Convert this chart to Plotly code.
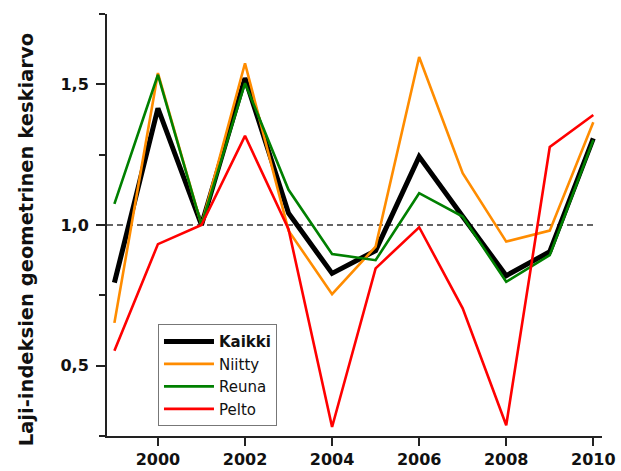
import plotly.graph_objects as go

# Annual geometric mean of species indices, by habitat
years = [1999, 2000, 2001, 2002, 2003, 2004, 2005, 2006, 2007, 2008, 2009, 2010]
kaikki = [0.795, 1.415, 1.0, 1.522, 1.042, 0.828, 0.909, 1.243, 1.030, 0.820, 0.905, 1.308]
niitty = [0.652, 1.540, 1.0, 1.575, 0.980, 0.754, 0.923, 1.597, 1.184, 0.941, 0.980, 1.365]
reuna = [1.075, 1.534, 1.0, 1.504, 1.125, 0.897, 0.875, 1.113, 1.030, 0.798, 0.893, 1.302]
pelto = [0.553, 0.932, 1.0, 1.317, 0.985, 0.282, 0.846, 0.992, 0.704, 0.288, 1.277, 1.391]

x_ticks = [2000, 2002, 2004, 2006, 2008, 2010]
y_ticks = [0.5, 1.0, 1.5]
y_tick_text = ["0,5", "1,0", "1,5"]

series = [
    ("<b>Kaikki</b>", kaikki, "#000000", 5),
    ("Niitty", niitty, "#FF8C00", 2.6),
    ("Reuna", reuna, "#008000", 2.6),
    ("Pelto", pelto, "#FF0000", 2.6),
]

X_MIN, X_MAX = 1998.83, 2010.2

fig = go.Figure()
for i, (name, vals, color, width) in enumerate(series):
    fig.add_trace(go.Scatter(
        x=years, y=vals, mode="lines", name=name,
        legendgroup=f"g{i}",
        line=dict(color=color, width=width),
    ))

# Reference level at 1.0
fig.add_shape(type="line", xref="paper", yref="y", x0=0, x1=(2010 - X_MIN) / (X_MAX - X_MIN),
              y0=1.0, y1=1.0, line=dict(color="#333333", width=1.3, dash="6px,4px"), layer="below")
# Small overhang of the x axis line to the left
fig.add_shape(type="line", xref="paper", yref="paper", x0=-0.011, x1=0, y0=0, y1=0,
              line=dict(color="#222222", width=2))

axis_font = dict(family="DejaVu Sans", size=16, color="#111111")

fig.update_xaxes(
    range=[X_MIN, X_MAX], tickvals=x_ticks, ticktext=[str(v) for v in x_ticks],
    showgrid=False, zeroline=False, showline=True, linecolor="#222222", linewidth=2,
    ticks="outside", ticklen=8, tickwidth=2, tickcolor="#222222",
    tickfont=dict(axis_font, weight="bold"), automargin=False,
)
fig.update_yaxes(
    range=[0.25, 1.75], tickvals=y_ticks, ticktext=y_tick_text,
    showgrid=False, zeroline=False, showline=True, linecolor="#222222", linewidth=2,
    ticks="outside", ticklen=9, tickwidth=2, tickcolor="#222222",
    ticklabelstandoff=4,
    minor=dict(tickvals=[0.25, 0.75, 1.25, 1.75], ticks="outside", ticklen=6,
               tickwidth=2, tickcolor="#222222"),
    tickfont=dict(axis_font, weight="bold"), automargin=False,
)

fig.add_annotation(
    text="<b>Laji-indeksien geometrinen keskiarvo</b>",
    xref="paper", yref="paper", x=-0.1636, y=0.464,
    xanchor="center", yanchor="middle", textangle=-90, showarrow=False,
    font=dict(family="DejaVu Sans", size=19.5, color="#111111"),
)

fig.update_layout(
    width=621, height=471,
    margin=dict(l=107, r=19, t=14, b=35, autoexpand=False),
    paper_bgcolor="white", plot_bgcolor="white",
    showlegend=True,
    legend=dict(
        x=0.103, y=0.265, xanchor="left", yanchor="top",
        bgcolor="white", bordercolor="#777777", borderwidth=1,
        font=dict(family="DejaVu Sans", size=15, color="#111111"),
        tracegroupgap=0, itemwidth=50,
    ),
)

fig.write_html("out.html")
